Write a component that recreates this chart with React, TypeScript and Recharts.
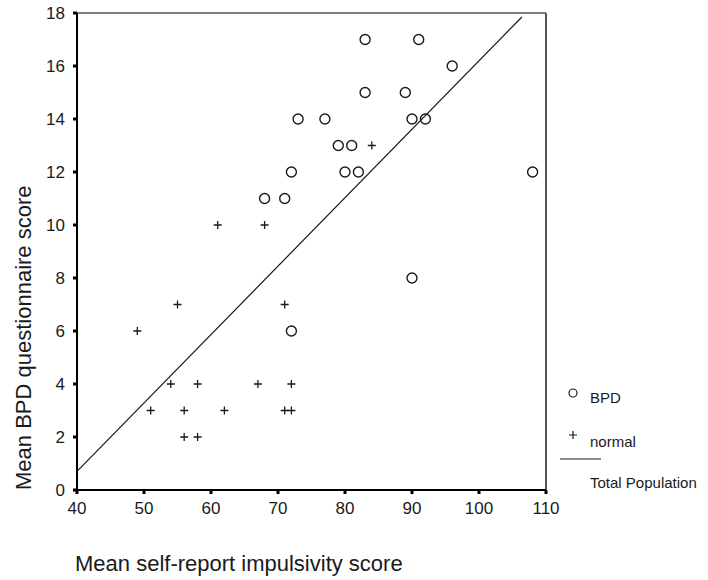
import React from 'react';
import { Label, Legend, ReferenceLine, Scatter, ScatterChart, XAxis, YAxis } from 'recharts';

// BPD group (circles)
const bpdImpulsivity = [73, 72, 68, 71, 83, 91, 96, 83, 89, 77, 90, 92, 79, 81, 80, 82, 108, 90, 72];
const bpdQuestionnaire = [14, 12, 11, 11, 17, 17, 16, 15, 15, 14, 14, 14, 13, 13, 12, 12, 12, 8, 6];

// normal group (plus signs)
const normalImpulsivity = [49, 55, 54, 58, 67, 72, 51, 56, 62, 71, 72, 56, 58, 61, 68, 71, 84];
const normalQuestionnaire = [6, 7, 4, 4, 4, 4, 3, 3, 3, 3, 3, 2, 2, 10, 10, 7, 13];

// fit line, total population
const fitImpulsivity = [40, 106.4];
const fitQuestionnaire = [0.7, 17.85];

const xTicks = [40, 50, 60, 70, 80, 90, 100, 110];
const yTicks = [0, 2, 4, 6, 8, 10, 12, 14, 16, 18];
const legendNames = ['BPD', 'normal', 'Total Population'];

const bpdData = bpdImpulsivity.map((x, i) => ({ x, y: bpdQuestionnaire[i] }));
const normalData = normalImpulsivity.map((x, i) => ({ x, y: normalQuestionnaire[i] }));
const fitData = fitImpulsivity.map((x, i) => ({ x, y: fitQuestionnaire[i] }));

const FONT = 'Liberation Sans, Arial, sans-serif';
const INK = '#1a1a1a';

const Circle = (props: any) => (
    <circle cx={props.cx} cy={props.cy} r={5} fill="none" stroke={INK} strokeWidth={1.4} />
);

const Plus = (props: any) => (
    <path
        d={`M${props.cx - 4},${props.cy}h8M${props.cx},${props.cy - 4}v8`}
        stroke={INK}
        strokeWidth={1.3}
        fill="none"
    />
);

const NoDot = () => <g />;

const LegendBox = () => (
    <svg width={158} height={120} style={{ display: 'block', fontFamily: FONT }}>
        <circle cx={23} cy={13} r={4} fill="none" stroke={INK} strokeWidth={1.2} />
        <text x={40} y={23} fontSize={15} fill={INK}>{legendNames[0]}</text>
        <path d="M19,55h8M23,51v8" stroke={INK} strokeWidth={1.2} />
        <text x={40} y={67} fontSize={15} fill={INK}>{legendNames[1]}</text>
        <line x1={10} y1={79} x2={51} y2={79} stroke={INK} strokeWidth={1.2} />
        <text x={40} y={108} fontSize={15} fill={INK}>{legendNames[2]}</text>
    </svg>
);

const YTitle = () => (
    <text
        transform="translate(31, 490) rotate(-90)"
        textAnchor="start"
        fontSize={22}
        fontFamily={FONT}
        fill={INK}
    >
        Mean BPD questionnaire score
    </text>
);

const XTitle = () => (
    <text x={75} y={571} textAnchor="start" fontSize={22} fontFamily={FONT} fill={INK}>
        Mean self-report impulsivity score
    </text>
);

export default function App() {
    return (
        <div style={{ position: 'absolute', left: 0, top: 0, width: 708, height: 580, background: '#fff' }}>
            <ScatterChart width={708} height={580} margin={{ top: 13, right: 162, bottom: 60, left: 17 }}>
                <XAxis
                    type="number"
                    dataKey="x"
                    domain={[40, 110]}
                    ticks={xTicks}
                    height={30}
                    axisLine={{ stroke: '#000', strokeWidth: 2 }}
                    tickLine={{ stroke: '#000', strokeWidth: 3 }}
                    tickSize={4}
                    tickMargin={8}
                    tick={{ fontSize: 17, fill: INK, fontFamily: FONT }}
                >
                    <Label content={XTitle} />
                </XAxis>
                <YAxis
                    type="number"
                    dataKey="y"
                    domain={[0, 18]}
                    ticks={yTicks}
                    width={60}
                    axisLine={{ stroke: '#000', strokeWidth: 2 }}
                    tickLine={{ stroke: '#000', strokeWidth: 3 }}
                    tickSize={4}
                    tickMargin={8}
                    tick={{ fontSize: 17, fill: INK, fontFamily: FONT }}
                >
                    <Label content={YTitle} />
                </YAxis>
                <ReferenceLine y={18} stroke="#555" strokeWidth={1.5} />
                <ReferenceLine x={110} stroke="#555" strokeWidth={2} />
                <Scatter
                    name="Total Population"
                    data={fitData}
                    line={{ stroke: INK, strokeWidth: 1.2 }}
                    shape={NoDot}
                    isAnimationActive={false}
                />
                <Scatter name="BPD" data={bpdData} shape={Circle} isAnimationActive={false} />
                <Scatter name="normal" data={normalData} shape={Plus} isAnimationActive={false} />
                <Legend
                    layout="horizontal"
                    verticalAlign="middle"
                    align="center"
                    wrapperStyle={{ left: 550, top: 380, width: 158, height: 120 }}
                    content={LegendBox}
                />
            </ScatterChart>
        </div>
    );
}
